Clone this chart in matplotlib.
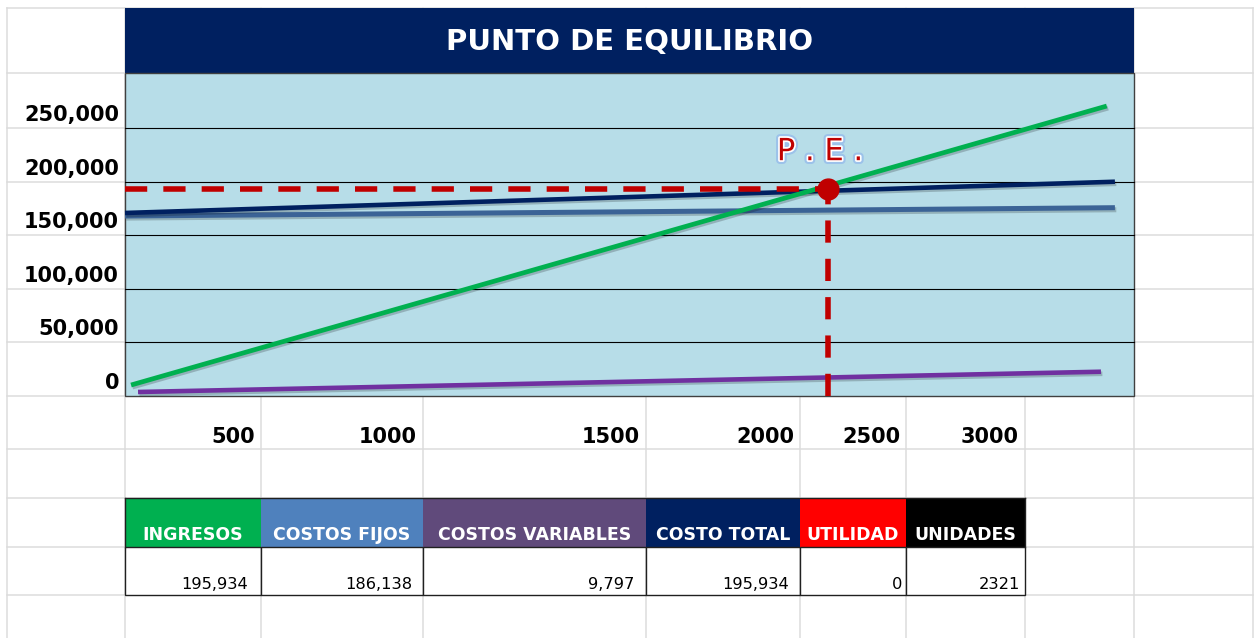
import matplotlib
matplotlib.use("Agg")
import matplotlib.pyplot as plt
import matplotlib.patheffects as pe
from matplotlib.patches import Rectangle

# -----------------------------
# DATA
# -----------------------------
title = "PUNTO DE EQUILIBRIO"

y_labels = ["250,000", "200,000", "150,000", "100,000", "50,000", "0"]
x_labels = ["500", "1000", "1500", "2000", "2500", "3000"]

# lines of the chart (units, money)
units_ing = [20, 3240]
ingresos = [10400, 274700]
units_cost = [0, 3267]
costo_total = [173400, 203000]
costos_fijos = [170500, 178400]
units_var = [43, 3221]
costos_var = [3800, 23000]

pe_units = 2321
pe_value = 195934

headers = ["INGRESOS", "COSTOS FIJOS", "COSTOS VARIABLES", "COSTO TOTAL", "UTILIDAD", "UNIDADES"]
header_colors = ["#00B050", "#4F81BD", "#604A7B", "#002060", "#FF0000", "#000000"]
values = ["195,934", "186,138", "9,797", "195,934", "0", "2321"]

# -----------------------------
# SHEET LAYOUT (pixels)
# -----------------------------
W, H = 1257, 638
cols = [7, 125, 261, 423, 646, 800, 906, 1025, 1134, 1253]
rows = [8, 73, 128, 182, 235, 289, 342, 396, 449, 498, 547, 595]
grid_gray = "#DCDCDC"

fig = plt.figure(figsize=(W / 100, H / 100), dpi=100)
bg = fig.add_axes([0, 0, 1, 1])
bg.set_xlim(0, W)
bg.set_ylim(H, 0)
bg.axis("off")

# spreadsheet gridlines
for y in rows:
    bg.plot([cols[0], cols[-1]], [y, y], color=grid_gray, lw=1.1, zorder=1)
for x in cols:
    bg.plot([x, x], [rows[0], H], color=grid_gray, lw=1.1, zorder=1)

# chart block: title band + plot area
left, right = cols[1], cols[8]
bg.add_patch(Rectangle((left, rows[0]), right - left, rows[1] - rows[0],
                       facecolor="#002060", edgecolor="none", zorder=2))
bg.add_patch(Rectangle((left, rows[1]), right - left, rows[7] - rows[1],
                       facecolor="#B7DDE8", edgecolor="#404040", lw=1.0, zorder=2))
bg.text((left + right) / 2, (rows[0] + rows[1]) / 2 + 1, title, color="white",
        fontsize=21, fontweight="bold", ha="center", va="center", zorder=3)
for y in rows[2:7]:
    bg.plot([left, right], [y, y], color="black", lw=0.8, zorder=3)

# y labels (cells left of chart)
for lab, y in zip(y_labels, rows[2:8]):
    bg.text(cols[1] - 6, y - 7, lab, fontsize=15, fontweight="bold",
            ha="right", va="baseline", zorder=3)

# x labels (cells under chart)
for lab, x in zip(x_labels, cols[2:8]):
    bg.text(x - 6, rows[8] - 6, lab, fontsize=15, fontweight="bold",
            ha="right", va="baseline", zorder=3)

# summary table
pads = [13, 11, 12, 11, 4, 5]
for i, (hdr, c, val) in enumerate(zip(headers, header_colors, values)):
    x0, x1 = cols[1 + i], cols[2 + i]
    bg.add_patch(Rectangle((x0, rows[9]), x1 - x0, rows[10] - rows[9],
                           facecolor=c, edgecolor="none", zorder=2))
    bg.add_patch(Rectangle((x0, rows[10]), x1 - x0, rows[11] - rows[10],
                           facecolor="white", edgecolor="#202020", lw=1.0, zorder=2))
    bg.text((x0 + x1) / 2, rows[10] - 7, hdr, color="white", fontsize=12.5,
            fontweight="bold", ha="center", va="baseline", zorder=3)
    bg.text(x1 - pads[i], rows[11] - 6, val, color="black", fontsize=11.7,
            ha="right", va="baseline", zorder=3)
bg.plot([cols[1], cols[7]], [rows[9], rows[9]], color="#202020", lw=1.0, zorder=3)
bg.plot([cols[1], cols[1]], [rows[9], rows[10]], color="#202020", lw=1.0, zorder=3)
bg.plot([cols[7], cols[7]], [rows[9], rows[10]], color="#202020", lw=1.0, zorder=3)

# -----------------------------
# CHART
# -----------------------------
ax = fig.add_axes([left / W, 1 - rows[7] / H, (right - left) / W, (rows[7] - rows[1]) / H])
ax.set_facecolor("none")
ax.set_xlim(0, 3330)
ax.set_ylim(0, 306000)
ax.axis("off")

shadow = [pe.SimpleLineShadow(offset=(1, -1.5), shadow_color="k", alpha=0.2), pe.Normal()]

ax.plot(units_var, costos_var, color="#7030A0", lw=3.3, solid_capstyle="butt",
        path_effects=shadow, clip_on=False)
ax.plot(units_cost, costos_fijos, color="#3B6396", lw=3.6, solid_capstyle="butt",
        path_effects=shadow, clip_on=False)
ax.plot(units_cost, costo_total, color="#002060", lw=3.3, solid_capstyle="butt",
        path_effects=shadow, clip_on=False)
ax.plot(units_ing, ingresos, color="#00B050", lw=3.4, solid_capstyle="butt",
        path_effects=shadow, clip_on=False)

# break-even guides
ax.plot([0, pe_units], [pe_value, pe_value], color="#C00000", lw=4,
        dashes=(4, 2.9), solid_capstyle="butt")
ax.plot([pe_units, pe_units], [0, pe_value], color="#C00000", lw=4,
        dashes=(4, 2.9), dash_capstyle="butt")
ax.plot([pe_units], [pe_value], "o", color="#C00000", markersize=15, zorder=5)

ax.annotate("P . E .", (pe_units, pe_value), xytext=(-6, 27), textcoords="offset points",
            ha="center", va="center", color="#C00000", fontsize=22,
            path_effects=[pe.Stroke(linewidth=5.5, foreground="#9CC2EA"),
                          pe.Stroke(linewidth=2.5, foreground="white"), pe.Normal()])

fig.savefig("out.png", dpi=100)
